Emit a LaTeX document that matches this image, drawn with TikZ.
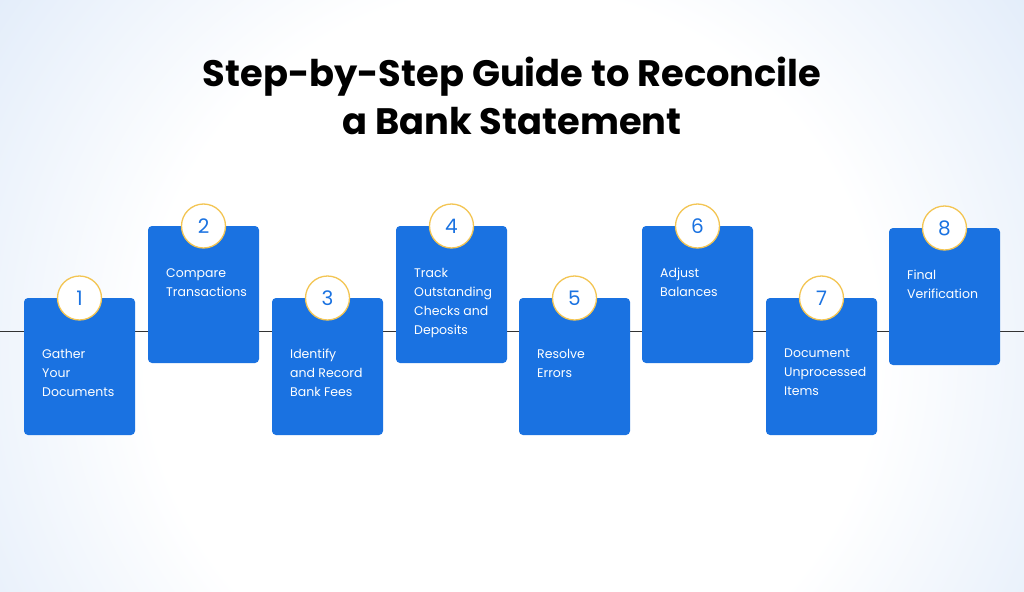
\documentclass[tikz,border=0pt]{standalone}
\usepackage{fontspec}
\setmainfont{Poppins}
\definecolor{boxblue}{HTML}{1A72E1}
\definecolor{ringgold}{HTML}{F3C553}
\definecolor{bgblue}{HTML}{C9DCF5}
\pgfdeclareradialshading{bgshade}{\pgfpoint{0bp}{0bp}}{color(0bp)=(white); color(12bp)=(white); color(22bp)=(bgblue!60); color(30bp)=(bgblue); color(50bp)=(bgblue)}
\tikzset{
 stepbox/.style={fill=boxblue,rounded corners=4pt,draw=none},
 numcirc/.style={circle,fill=white,draw=ringgold,line width=1.3pt,minimum size=44pt,inner sep=0pt,text=boxblue,font=\fontsize{20}{22}\selectfont},
 steptext/.style={anchor=north west,align=left,text=white,inner sep=0pt,font=\fontsize{12.5}{19}\selectfont}
}
\begin{document}
\begin{tikzpicture}[x=1pt,y=-1pt]
\useasboundingbox (0,0) rectangle (1024,591);
\begin{scope}
\clip (0,0) rectangle (1024,591);
\shade[shading=bgshade] (-250,-400) rectangle (1274,1100);
\end{scope}
\draw[line width=1pt,black!80] (0,331) -- (1024,331);
\node[font=\fontsize{36.8}{48}\selectfont\bfseries,align=center] (title) at (512,96) {Step-by-Step Guide to Reconcile\\a Bank Statement};
\foreach \i/\x/\y/\t in {1/24/298/{Gather\\Your\\Documents},2/148/226/{Compare\\Transactions},3/272/298/{Identify\\and Record\\Bank Fees},4/396/226/{Track\\Outstanding\\Checks and\\Deposits},5/519/298/{Resolve\\Errors},6/642/226/{Adjust\\Balances},7/766/298/{Document\\Unprocessed\\Items},8/889/228/{Final\\Verification}}{
  \path[stepbox] (\x,\y) rectangle ++(111,137);
  \coordinate (b\i) at (\x,\y);
  \node[numcirc] (c\i) at ([xshift=55.5pt]b\i) {\i};
  \pgfmathsetmacro{\off}{\y>250 ? 51 : 42}
  \node[steptext] (t\i) at ([xshift=18pt,yshift=-\off pt]b\i) {\t};
}
\end{tikzpicture}
\end{document}
